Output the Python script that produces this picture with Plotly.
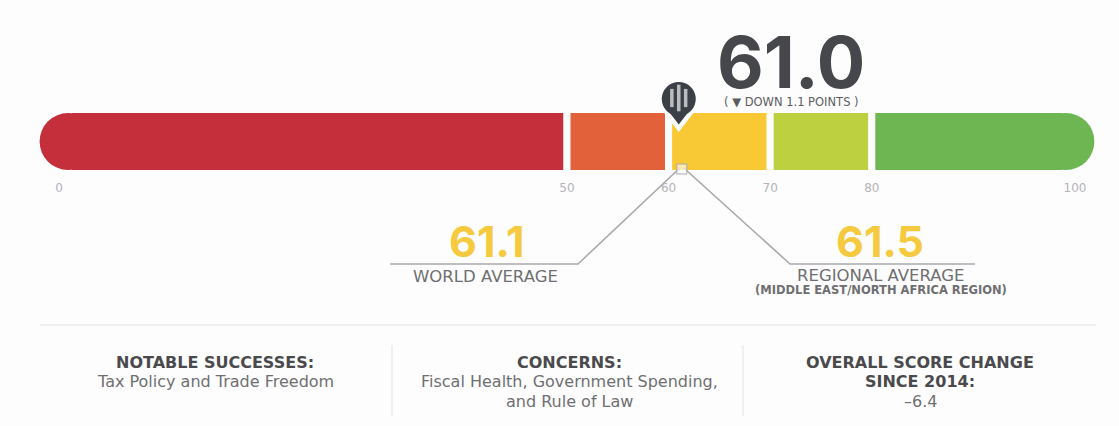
import plotly.graph_objects as go

# ---- data ----
band_edges = [0.9, 50, 60, 70, 80, 99.1]
band_colors = ["#c52e3b", "#e2613a", "#f9c935", "#bdd03f", "#6db651"]
tick_values = [0, 50, 60, 70, 80, 100]
score = 61.0
world_avg = 61.1
regional_avg = 61.5

FONT = "DejaVu Sans"
BIG = "Inter"
W, H = 1119, 426
# x axis is the score scale; y axis counts page pixels from the top
X_RANGE = [-5.807, 104.33]
BAR_Y = 141.5


def scale_x(px):
    return (px - 59) / 10.16


fig = go.Figure()

# gauge bands
for i, col in enumerate(band_colors):
    fig.add_trace(go.Bar(
        y=[BAR_Y], x=[band_edges[i + 1] - band_edges[i]], base=[band_edges[i]],
        orientation="h", width=64,
        marker=dict(color=col, line=dict(color="#fdfdfd", width=7)),
        hoverinfo="skip",
    ))
# rounded ends
fig.add_trace(go.Scatter(
    x=[band_edges[0], band_edges[-1]], y=[BAR_Y, BAR_Y], mode="markers",
    marker=dict(size=57, color=[band_colors[0], band_colors[-1]], line=dict(width=0)),
    hoverinfo="skip",
))

# pin
fig.add_trace(go.Scatter(x=[score], y=[114], mode="markers", hoverinfo="skip",
    marker=dict(symbol="triangle-down", size=36, color="#fdfdfd", line=dict(width=0))))
fig.add_trace(go.Scatter(x=[score], y=[111], mode="markers", hoverinfo="skip",
    marker=dict(symbol="triangle-down", size=27, color="#3b3f46", line=dict(width=0))))
fig.add_trace(go.Scatter(x=[score], y=[99], mode="markers", hoverinfo="skip",
    marker=dict(symbol="circle", size=34, color="#3b3f46", line=dict(width=0))))
fig.add_trace(go.Scatter(
    x=[score - 0.68, score, score + 0.68], y=[98, 98, 98], mode="markers", hoverinfo="skip",
    marker=dict(symbol="line-ns", size=[13, 19, 13], line=dict(color="#f2f2f2", width=3.5)),
))

# connectors
line_style = dict(color="#a9a9ad", width=1.6)
fig.add_trace(go.Scatter(x=[scale_x(390), scale_x(578), world_avg], y=[264, 264, 168],
                         mode="lines", line=line_style, hoverinfo="skip"))
fig.add_trace(go.Scatter(x=[regional_avg, scale_x(790), scale_x(975)], y=[168, 264, 264],
                         mode="lines", line=line_style, hoverinfo="skip"))
fig.add_trace(go.Scatter(x=[(world_avg + regional_avg) / 2], y=[169], mode="markers", hoverinfo="skip",
    marker=dict(symbol="square", size=10, color="rgba(255,255,255,0.6)",
                line=dict(color="#a9a9ad", width=1))))

# separators
sep = dict(color="#ebebeb", width=1.5)
fig.add_trace(go.Scatter(x=[scale_x(40), scale_x(1096)], y=[325, 325], mode="lines", line=sep, hoverinfo="skip"))
fig.add_trace(go.Scatter(x=[scale_x(392), scale_x(392)], y=[345, 416], mode="lines", line=sep, hoverinfo="skip"))
fig.add_trace(go.Scatter(x=[scale_x(743), scale_x(743)], y=[345, 416], mode="lines", line=sep, hoverinfo="skip"))


def txt(px, y, s, size, color, weight=400, family=FONT):
    fig.add_annotation(x=scale_x(px), y=y, text=s, showarrow=False, xanchor="center", yanchor="middle",
                       font=dict(family=family, size=size, color=color, weight=weight))


DARK, MID = "#4a4a4d", "#6f6f72"
YEL = "#f6ca3f"
txt(791, 61, f"{score:.1f}", 72, "#46474a", 700, BIG)
txt(791, 102, "( ▼ DOWN 1.1 POINTS )", 11.5, "#5c5c60")
txt(486, 241, f"{world_avg}", 43, YEL, 700, BIG)
txt(880, 241, f"{regional_avg}", 43, YEL, 700, BIG)
txt(485, 276, "WORLD AVERAGE", 16.5, MID)
txt(881, 275, "REGIONAL AVERAGE", 16.5, MID)
txt(881, 290, "(MIDDLE EAST/NORTH AFRICA REGION)", 11.5, MID, 700)

txt(215, 362, "NOTABLE SUCCESSES:", 16, DARK, 700)
txt(215, 381, "Tax Policy and Trade Freedom", 16, MID)
txt(569, 362, "CONCERNS:", 16, DARK, 700)
txt(569, 381, "Fiscal Health, Government Spending,", 16, MID)
txt(569, 401, "and Rule of Law", 16, MID)
txt(920, 362, "OVERALL SCORE CHANGE", 16, DARK, 700)
txt(920, 381, "SINCE 2014:", 16, DARK, 700)
txt(920, 401, "–6.4", 16, MID)

fig.update_layout(
    width=W, height=H, margin=dict(l=0, r=0, t=0, b=0), barmode="overlay",
    showlegend=False, paper_bgcolor="#fdfdfd", plot_bgcolor="#fdfdfd",
    xaxis=dict(range=X_RANGE, domain=[0, 1], anchor="free", position=1 - 179 / H,
               tickmode="array", tickvals=tick_values, ticklen=0, showgrid=False, zeroline=False,
               showline=False, tickfont=dict(family=FONT, size=12, color="#b4b4ba")),
    yaxis=dict(range=[H, 0], domain=[0, 1], visible=False),
)
fig.write_html("out.html", config={"displayModeBar": False},
               post_script="document.body.style.margin='0';document.body.style.overflow='hidden';")
